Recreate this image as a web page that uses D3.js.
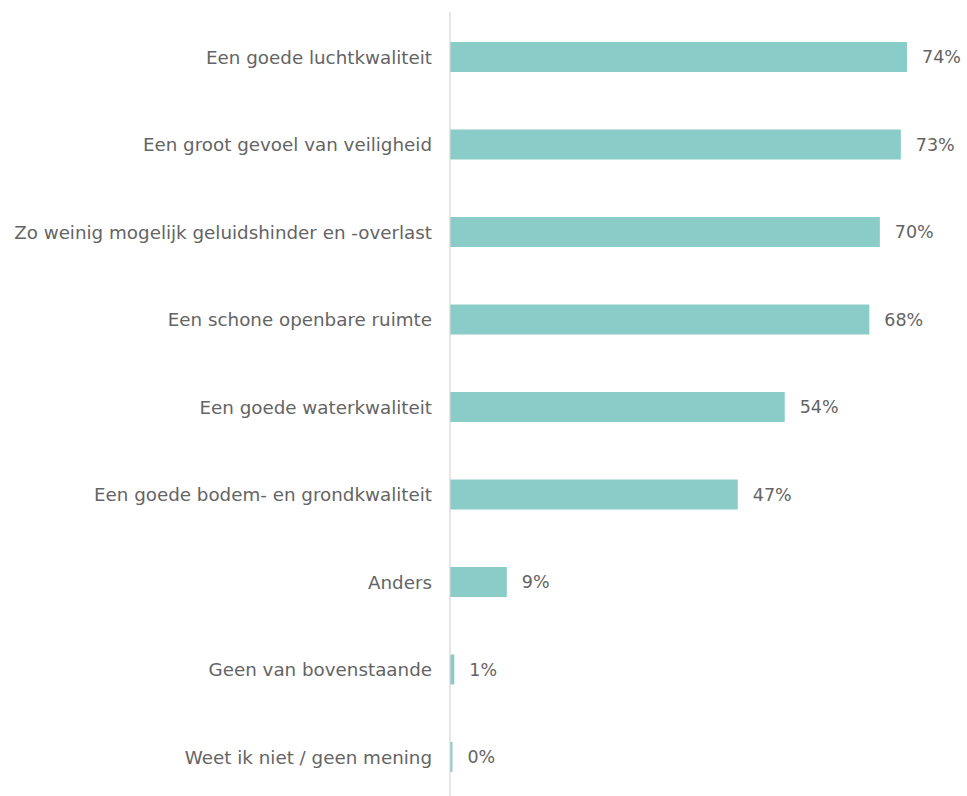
<!DOCTYPE html>
<html><head><meta charset="utf-8">
<script src="https://cdn.jsdelivr.net/npm/d3@7"></script>
<style>body{margin:0;background:#fff;} svg{display:block;}</style>
</head><body>
<svg id="c" width="967" height="796"></svg>
<script>
const categories = [
  "Een goede luchtkwaliteit",
  "Een groot gevoel van veiligheid",
  "Zo weinig mogelijk geluidshinder en -overlast",
  "Een schone openbare ruimte",
  "Een goede waterkwaliteit",
  "Een goede bodem- en grondkwaliteit",
  "Anders",
  "Geen van bovenstaande",
  "Weet ik niet / geen mening"
];
const values = [74, 73, 69.6, 67.9, 54.2, 46.6, 9.2, 0.7, 0.4];
const valueLabels = ["74%", "73%", "70%", "68%", "54%", "47%", "9%", "1%", "0%"];

const svg = d3.select("#c");
const x0 = 450;
const x = d3.scaleLinear().domain([0, 100]).range([x0, x0 + 617.6]);
const y = d3.scaleBand().domain(categories).range([13.25, 800.75])
  .paddingInner(0.657).paddingOuter(0.3285);

svg.append("g").selectAll("rect").data(categories).join("rect")
  .attr("x", x(0))
  .attr("y", d => y(d))
  .attr("width", (d, i) => x(values[i]) - x(0))
  .attr("height", y.bandwidth())
  .attr("fill", "#8accc8");

svg.append("line").attr("x1", x0).attr("x2", x0).attr("y1", 12).attr("y2", 796)
  .attr("stroke", "#d6d6d6").attr("stroke-width", 1.2);

const font = "'DejaVu Sans', sans-serif";
svg.append("g").selectAll("text").data(categories).join("text")
  .attr("x", 432)
  .attr("y", d => y(d) + y.bandwidth() / 2)
  .attr("dy", "0.36em")
  .attr("text-anchor", "end")
  .attr("font-family", font).attr("font-size", 18.3).attr("fill", "#646464")
  .text(d => d);

svg.append("g").selectAll("text").data(categories).join("text")
  .attr("x", (d, i) => x(values[i]) + 15)
  .attr("y", d => y(d) + y.bandwidth() / 2)
  .attr("dy", "0.36em")
  .attr("font-family", font).attr("font-size", 17.5).attr("fill", "#646464")
  .text((d, i) => valueLabels[i]);
</script>
</body></html>
